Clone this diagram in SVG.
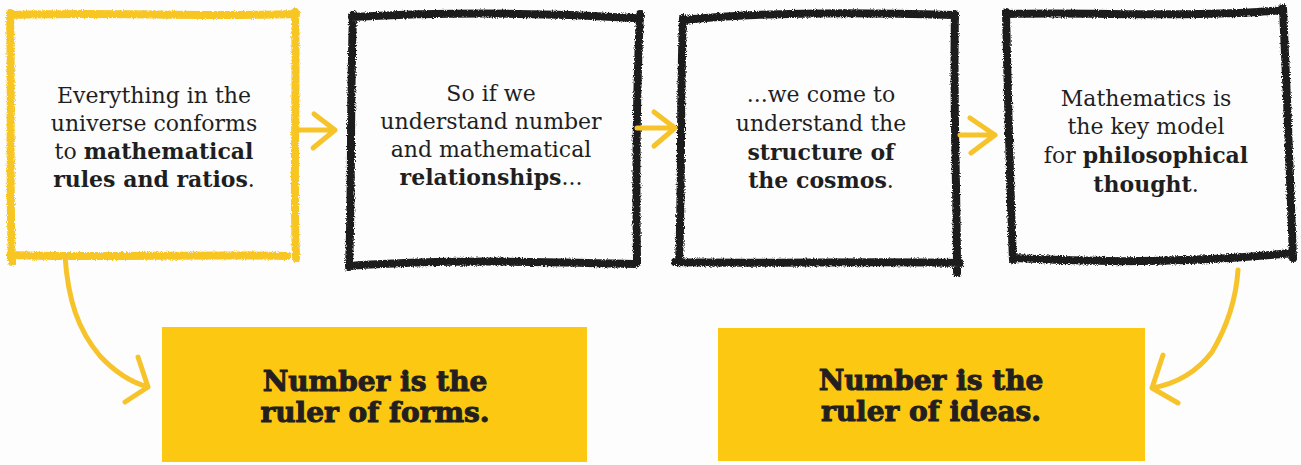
<svg xmlns="http://www.w3.org/2000/svg" width="1301" height="465" viewBox="0 0 1301 465">
<style>
.bg{fill:#fdfdfd}
.ybox{fill:none;stroke:#f7c624;stroke-width:8;stroke-linecap:round;stroke-linejoin:round}
.kbox{fill:none;stroke:#1f1f1f;stroke-width:8;stroke-linecap:round;stroke-linejoin:round}
.conn{fill:none;stroke:#f6c42a;stroke-width:5;stroke-linecap:round;stroke-linejoin:round}
.panel{fill:#fcc812}
.t{font-family:"DejaVu Serif","Liberation Serif",serif;font-size:22px;fill:#1f1f1f;text-anchor:middle}
.b{font-weight:bold}
.h{font-family:"DejaVu Serif","Liberation Serif",serif;font-size:28px;font-weight:bold;fill:#231f20;stroke:#231f20;stroke-width:1;text-anchor:middle}
</style>
<defs>
<filter id="chalk" x="-5%" y="-5%" width="110%" height="110%">
<feTurbulence type="fractalNoise" baseFrequency="0.9" numOctaves="2" seed="3" result="n"/>
<feDisplacementMap in="SourceGraphic" in2="n" scale="4" xChannelSelector="R" yChannelSelector="G"/>
</filter>
</defs>
<rect class="bg" x="0" y="0" width="1301" height="465"/>

<g id="node1">
<path class="ybox" filter="url(#chalk)" d="M12,15 C100,12 200,17 296,14 M295,12 C297,90 293,180 296,258 M10,255 C90,258 200,254 287,256 M10,13 C12,90 9,180 12,262"/>
<text class="t" x="154" y="103">Everything in the</text>
<text class="t" x="154" y="131">universe conforms</text>
<text class="t" x="154" y="159">to <tspan class="b">mathematical</tspan></text>
<text class="t" x="154" y="187"><tspan class="b">rules and ratios</tspan>.</text>
</g>

<g id="node2">
<path class="kbox" filter="url(#chalk)" d="M352,17 C450,12 550,13 634,18 M640,14 C636,100 636,190 637,262 M349,266 C450,259 560,262 635,264 M353,15 C350,100 352,190 349,267"/>
<text class="t" x="491" y="101">So if we</text>
<text class="t" x="491" y="129">understand number</text>
<text class="t" x="491" y="157">and mathematical</text>
<text class="t" x="491" y="185"><tspan class="b">relationships</tspan>...</text>
</g>

<g id="node3">
<path class="kbox" filter="url(#chalk)" d="M683,20 C760,12 860,12 953,15 M955,14 C953,100 957,190 957,273 M675,262 C760,264 880,261 960,263 M683,18 C680,100 682,190 679,262"/>
<text class="t" x="821" y="102">...we come to</text>
<text class="t" x="821" y="131">understand the</text>
<text class="t" x="821" y="160"><tspan class="b">structure of</tspan></text>
<text class="t" x="821" y="188"><tspan class="b">the cosmos</tspan>.</text>
</g>

<g id="node4">
<path class="kbox" filter="url(#chalk)" d="M1007,14 C1100,12 1200,18 1283,10 M1283,8 C1287,90 1290,180 1293,258 M1013,258 C1100,263 1200,262 1292,253 M1006,12 C1008,100 1010,190 1013,260"/>
<text class="t" x="1146" y="106">Mathematics is</text>
<text class="t" x="1146" y="134">the key model</text>
<text class="t" x="1146" y="163">for <tspan class="b">philosophical</tspan></text>
<text class="t" x="1146" y="192"><tspan class="b">thought</tspan>.</text>
</g>

<g id="node5">
<rect class="panel" x="162" y="327" width="425" height="135"/>
<text class="h" x="375" y="391">Number is the</text>
<text class="h" x="375" y="422">ruler of forms.</text>
</g>

<g id="node6">
<rect class="panel" x="718" y="328" width="427" height="133"/>
<text class="h" x="931" y="390">Number is the</text>
<text class="h" x="931" y="421">ruler of ideas.</text>
</g>

<g id="connectors">
<path class="conn" d="M299,130 L335,130 M314,114 L335,130 M313,148 L335,130"/>
<path class="conn" d="M637,128 L675,128 M654,112 L675,128 M654,146 L675,128"/>
<path class="conn" d="M960,135 L995,135 M970,118 L995,135 M971,153 L995,135"/>
<path class="conn" d="M65,256 C68,300 78,330 100,356 C115,372 130,382 148,387 M138,357 L148,387 L125,402"/>
<path class="conn" d="M1238,270 C1236,300 1228,325 1212,352 C1196,373 1175,384 1152,388 M1163,355 L1152,388 L1178,403"/>
</g>
</svg>
